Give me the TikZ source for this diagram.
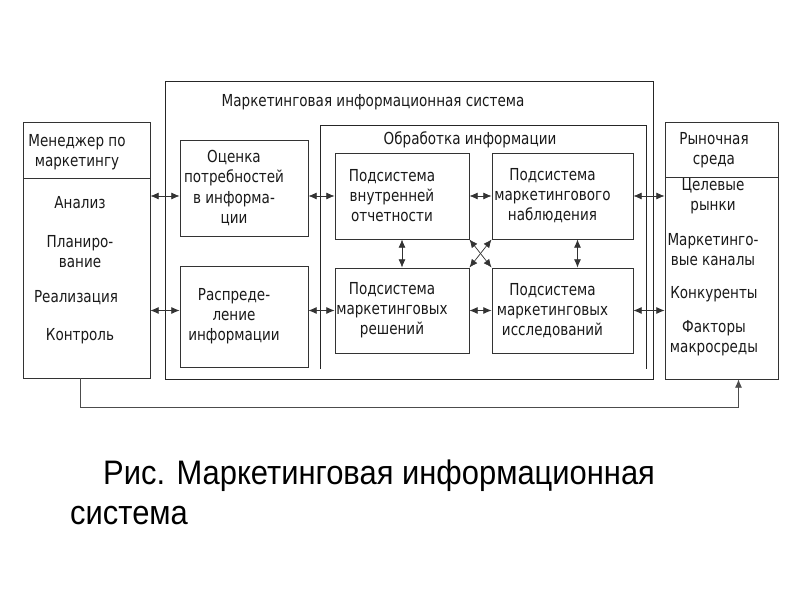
\documentclass[tikz,border=0pt]{standalone}
\usepackage{fontspec}
\setmainfont{DejaVu Sans}[FakeStretch=0.82]
\newfontfamily\capfont{Liberation Sans}[FakeStretch=0.91]
\usetikzlibrary{positioning,arrows.meta,calc}

\begin{document}
\begin{tikzpicture}[x=0.03cm,y=-0.03cm,
    box/.style={draw=black!80, line width=0.8pt, fill=none, inner sep=0pt},
    txt/.style={font=\fontsize{14.1pt}{17.1pt}\selectfont, text=black!90, align=center, inner sep=0pt},
    frame/.style={draw=black!85, line width=0.8pt},
    link/.style={draw=black!80, line width=0.6pt, {Latex[length=7pt,width=6pt]}-{Latex[length=7pt,width=6pt]}},
    feed/.style={draw=black!70, line width=0.6pt, -{Latex[length=7pt,width=6pt]}},
    capt/.style={font=\capfont\fontsize{29pt}{34pt}\selectfont, text=black, inner sep=0pt}]
  \useasboundingbox (0,0) rectangle (800,600);

  % outer frames
  \draw[frame] (165,81) rectangle (653,379);
  \node[txt] (sysname) at (373,102) {Маркетинговая информационная система};
  \draw[frame] (320,369) |- (646,125) -- (646,369);
  \node[txt] (procname) at (470,140) {Обработка информации};

  % manager
  \node[box, minimum width=3.81cm, minimum height=1.68cm] (mgrhead) at (86.5,150) {};
  \node[box, minimum width=3.81cm, minimum height=6.0cm] (mgrbody) at (86.5,278) {};
  \node[txt] (mgrname) at (77,152) {Менеджер по\\маркетингу};
  \node[txt] (analiz) at (80,203) {Анализ};
  \node[txt] (plan) at (80,252) {Планиро-\\вание};
  \node[txt] (real) at (76,298) {Реализация};
  \node[txt] (kontr) at (80,336) {Контроль};

  % system blocks
  \node[box, minimum width=3.84cm, minimum height=2.88cm] (ocenka) at (244,188) {};
  \node[box, minimum width=3.84cm, minimum height=3.03cm] (raspr) at (244,316.5) {};
  \node[box, minimum width=4.02cm, minimum height=2.58cm] (vnutr) at (402,196) {};
  \node[box, minimum width=4.23cm, minimum height=2.58cm] (nabl) at (562.5,196) {};
  \node[box, minimum width=4.02cm, minimum height=2.55cm] (resh) at (402,310.5) {};
  \node[box, minimum width=4.23cm, minimum height=2.55cm] (issl) at (562.5,310.5) {};
  \node[txt] (ocenkatxt) at ($(ocenka)+(-10,0)$) {Оценка\\потребностей\\в информа-\\ции};
  \node[txt] (rasprtxt) at ($(raspr)+(-10,0)$) {Распреде-\\ление\\информации};
  \node[txt] (vnutrtxt) at ($(vnutr)+(-10,0)$) {Подсистема\\внутренней\\отчетности};
  \node[txt] (nabltxt) at ($(nabl)+(-10,0)$) {Подсистема\\маркетингового\\наблюдения};
  \node[txt] (reshtxt) at ($(resh)+(-10,0)$) {Подсистема\\маркетинговых\\решений};
  \node[txt] (issltxt) at ($(issl)+(-10,0)$) {Подсистема\\маркетинговых\\исследований};

  % market
  \node[box, minimum width=3.39cm, minimum height=1.65cm] (markethead) at (721.5,149.5) {};
  \node[box, minimum width=3.39cm, minimum height=6.06cm] (marketbody) at (721.5,278) {};
  \node[txt] (marketname) at (714,150) {Рыночная\\среда};
  \node[txt] (celrynki) at (713,196.5) {Целевые\\рынки};
  \node[txt] (kanaly) at (713,250) {Маркетинго-\\вые каналы};
  \node[txt] (konk) at (714,294) {Конкуренты};
  \node[txt] (faktory) at (714,338.5) {Факторы\\макросреды};

  % links
  \draw[link] (mgrbody.east |- vnutr.west) -- (ocenka.west |- vnutr.west);
  \draw[link] (ocenka.east |- vnutr.west) -- (vnutr.west);
  \draw[link] (mgrbody.east |- resh.west) -- (raspr.west |- resh.west);
  \draw[link] (raspr.east |- resh.west) -- (resh.west);
  \draw[link] (vnutr.east) -- (nabl.west);
  \draw[link] (resh.east) -- (issl.west);
  \draw[link] (nabl.east) -- (nabl.east -| marketbody.west);
  \draw[link] (issl.east) -- (issl.east -| marketbody.west);
  \draw[link] (vnutr.south) -- (resh.north);
  \draw[link] ($(nabl.south)+(15,0)$) -- ($(issl.north)+(15,0)$);
  \draw[link] (vnutr.south east) -- (issl.north west);
  \draw[link] (nabl.south west) -- (resh.north east);
  \draw[feed] ($(mgrbody.south)+(-6.5,0)$) -- ++(0,29) -| ($(marketbody.south)+(17,0)$);

  % caption
  \node[capt, anchor=base west] (capline1) at (103,485) {Рис. Маркетинговая информационная};
  \node[capt, anchor=base west] (capline2) at (70,525) {система};
\end{tikzpicture}
\end{document}
